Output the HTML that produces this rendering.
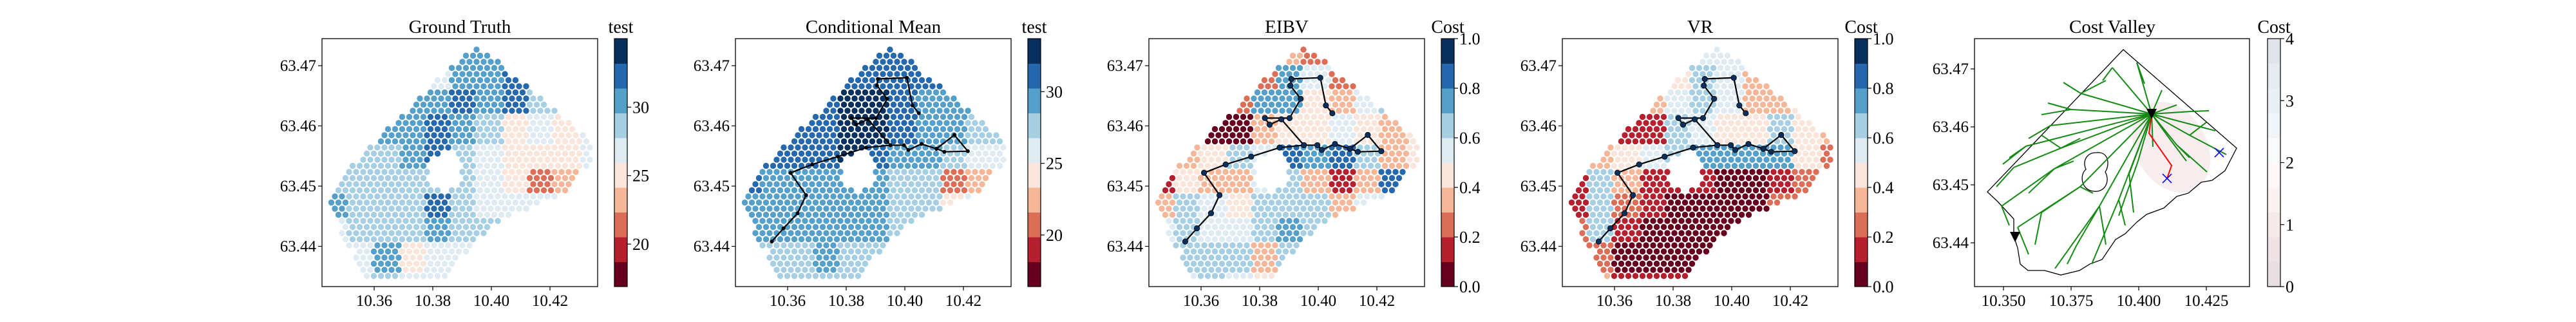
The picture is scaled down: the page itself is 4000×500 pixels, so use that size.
<!DOCTYPE html>
<html><head><meta charset="utf-8"><style>
html,body{margin:0;padding:0;background:#fff;}
svg{display:block;font-family:"Liberation Serif","DejaVu Serif",serif;}
</style></head><body>
<svg id="fig" width="4000" height="500" viewBox="0 0 4000 500" xmlns="http://www.w3.org/2000/svg"></svg>
<script>
// ---------- data ----------
const rdbu = ['#67001f','#b51f2e','#dc6e57','#f6b698','#f9e5da','#deebf2','#a7cfe4','#559fcb','#2668ae','#08305e'];
const costColors = ['#e8dde1','#eee2e5','#f5e9e9','#faf1f0','#fdf8f7','#f8fafc','#eff5f9','#e8f0f6','#e5ebf1','#e1e5ea'];
const panelTitles = ['Ground Truth','Conditional Mean','EIBV','VR','Cost Valley'];
const cbarLabels = ['test','test','Cost','Cost','Cost'];
const latTicks = [63.44,63.45,63.46,63.47];
const lonTicks = [10.36,10.38,10.40,10.42];
const lonTicks5 = [10.350,10.375,10.400,10.425];
const testTicks = [20,25,30];
const costTicks = [0,0.2,0.4,0.6,0.8,1.0];
const cvTicks = [0,1,2,3,4];
// coarse field grids (colour bin per 40px block)
const gridGT = ["55555776555","55555778755","55577878666","55778764545","66678654445","66666654234","76668655555","56667665555","55745555555","55655555555"];
const gridCM = ["88888888888","88888888877","88889987777","88889987766","78889877655","87777766233","77777766455","77777765555","66676655555","66666655555"];
const gridEIBV = ["55555325555","55532752455","55227743565","52003445434","33465878634","14335631386","36546663555","56556765555","56663655555","55654555555"];
const gridVR = ["55555554555","44444653444","33335653344","21116544643","33456777742","16311100122","16210000222","26100001222","22000022222","33111133333"];
// survey path (lon/lat)
const pathLon = [10.3546,10.3586,10.3634,10.3663,10.3610,10.3684,10.3771,10.3868,10.3951,10.3874,10.3834,10.3818,10.3902,10.3940,10.3905,10.3908,10.4007,10.4026,10.4048];
const pathLat = [63.4408,63.4430,63.4455,63.4485,63.4522,63.4536,63.4549,63.4564,63.4568,63.4611,63.4602,63.4613,63.4613,63.4645,63.4667,63.4678,63.4680,63.4634,63.4621];
const branchLon = [10.3951,10.3997,10.4012,10.4057,10.4108,10.4169,10.4215,10.4135,10.4108];
const branchLat = [63.4568,63.4568,63.4560,63.4570,63.4562,63.4585,63.4558,63.4557,63.4562];
// cost valley boundary
const bndLon = [10.39429,10.43619,10.43190,10.42714,10.42310,10.41833,10.41405,10.40929,10.40286,10.39929,10.39500,10.39143,10.38643,10.38190,10.37810,10.37119,10.36524,10.35905,10.35619,10.35524,10.35381,10.35381,10.34786,10.34405];
const bndLat = [63.47333,63.45633,63.45244,63.45078,63.45044,63.44856,63.44800,63.44600,63.44489,63.44356,63.44156,63.44056,63.43711,63.43633,63.43522,63.43444,63.43522,63.43522,63.43633,63.43911,63.44111,63.44411,63.44711,63.44878];
// RRT tree segments
const segLon1 = [10.40476,10.40476,10.37857,10.40476,10.40476,10.40476,10.40476,10.37119,10.40476,10.36881,10.40476,10.37833,10.40476,10.38548,10.40476,10.39262,10.40476,10.40476,10.40476,10.40476,10.40476,10.41881,10.40476,10.41405,10.40476,10.40476,10.40476,10.40476,10.40476,10.39976,10.39643,10.36881,10.37833,10.38548,10.37500,10.35833,10.41881,10.37119,
 10.37500,10.36738,10.35833,10.35381,10.34929,10.35524,10.36405,10.37714,10.38548,10.39262,10.39024,10.39929,10.37857,10.37119,10.36881,10.41405,10.41952,10.41167,10.37833];
const segLat1 = [63.46222,63.46222,63.46578,63.46222,63.46222,63.46222,63.46222,63.45633,63.46222,63.45278,63.46222,63.44967,63.46222,63.44633,63.46222,63.44744,63.46222,63.46222,63.46222,63.46222,63.46222,63.45856,63.46222,63.45689,63.46222,63.46222,63.46222,63.46222,63.46222,63.45411,63.45189,63.45278,63.44967,63.44633,63.46300,63.45667,63.45856,63.45633,
 63.46300,63.46022,63.45667,63.45300,63.44633,63.44267,63.44522,63.43967,63.44633,63.44744,63.47022,63.47111,63.46578,63.45633,63.45278,63.45689,63.46267,63.45778,63.44967];
const segLon2 = [10.39024,10.37857,10.37214,10.37500,10.36738,10.35833,10.37119,10.35381,10.36881,10.34929,10.37833,10.35524,10.38548,10.36905,10.39262,10.38262,10.39643,10.39929,10.40857,10.42833,10.41881,10.43238,10.41405,10.42524,10.41405,10.41952,10.41167,10.40524,10.39976,10.39262,10.39810,10.35929,10.36405,10.37714,10.36643,10.35214,10.42500,10.36405,
 10.36405,10.35929,10.34976,10.34738,10.35214,10.35929,10.36167,10.37357,10.38786,10.39500,10.38667,10.40214,10.38786,10.37833,10.37595,10.41881,10.42595,10.41762,10.38310];
const segLat2 = [63.47022,63.46578,63.46767,63.46300,63.46022,63.45667,63.45633,63.45300,63.45278,63.44633,63.44967,63.44267,63.44633,63.43556,63.44744,63.43633,63.45189,63.47111,63.46633,63.45933,63.45856,63.45522,63.45689,63.45222,63.46378,63.46267,63.45778,63.45656,63.45411,63.44467,63.44522,63.44856,63.44522,63.43967,63.46411,63.45467,63.46078,63.45856,
 63.46211,63.45800,63.45356,63.44967,63.44300,63.43800,63.43967,63.43633,63.43967,63.44300,63.46800,63.46744,63.46800,63.45800,63.45411,63.45467,63.46278,63.45411,63.44856];
const redLon = [10.40476,10.40381,10.41214,10.41048];
const redLat = [63.46222,63.45889,63.45333,63.45111];
const xLon = [10.41048,10.42976];
const xLat = [63.45111,63.45556];
const triLon = [10.40476,10.35429];
const triLat = [63.46222,63.44100];

// ---------- layout ----------
const NS = 'http://www.w3.org/2000/svg';
const svg = document.getElementById('fig');
function el(tag, attrs, parent){const e=document.createElementNS(NS,tag);for(const k in attrs)e.setAttribute(k,attrs[k]);(parent||svg).appendChild(e);return e;}
const AX_T=60, AX_B=445, AX_W=428, STEP=642;
function axLeft(p){return 500+STEP*p;}
function xS(p,lon){return axLeft(p)+81+(lon-10.36)*4550;}
function yS(lat){return 102+(63.47-lat)*9350;}
function xS5(lon){return 3321+(lon-10.40)*4200;}
function yS5(lat){return 107+(63.47-lat)*9000;}
const mask=[[240,9],[263,27],[308,67],[353,100],[380,127],[419,162],[419,188],[393,222],[392,233],[362,246],[308,268],[259,295],[230,329],[206,346],[193,375],[72,375],[65,364],[48,331],[33,309],[10,250],[35,205],[66,177],[98,144],[125,119],[160,84],[213,30]];
function inside(x,y){let c=false;for(let i=0,j=mask.length-1;i<mask.length;j=i++){const [xi,yi]=mask[i],[xj,yj]=mask[j];if(((yi>y)!=(yj>y))&&(x<(xj-xi)*(y-yi)/(yj-yi)+xi))c=!c;}return c;}

const grids=[gridGT,gridCM,gridEIBV,gridVR];
for(let p=0;p<5;p++){
  const L=axLeft(p);
  const g=el('g',{});
  
  
  const cx = p<4 ? L+AX_W/2 : 3280;
  const t=el('text',{x:cx,y:51,'font-size':29,'text-anchor':'middle'},g);
  t.textContent=panelTitles[p];
  
  
  const axR = p<4 ? L+AX_W : 3493;
  const axL = p<4 ? L : 3066;
  if(p<4){
    const cg=el('g',{},g);
    
    
    const grid=grids[p];
    for(let j=0;j<38;j++){
      const y=17+j*9.5;
      for(let i=-25;i<18;i++){
        const x=240+i*11+(j%2?5.5:0);
        if(!inside(x,y))continue;
        if(((x-192)/26)**2+((y-206)/30)**2<1)continue;
        const r=Math.min(9,Math.floor(y/40)), c=Math.min(10,Math.max(0,Math.floor(x/40)));
        const v=+grid[r][c];
        const d=el('circle',{cx:L+x,cy:AX_T+y,r:4.7,fill:rdbu[v]},cg);
        
        
      }
    }
    if(p>0){
      const pg=el('g',{},g);
      
      
      const pts=pathLon.map((v,k)=>xS(p,v)+','+yS(pathLat[k])).join(' ');
      const bpts=branchLon.map((v,k)=>xS(p,v)+','+yS(branchLat[k])).join(' ');
      el('polyline',{points:pts,fill:'none',stroke:'#000','stroke-width':2.2},pg);
      el('polyline',{points:bpts,fill:'none',stroke:'#000','stroke-width':2.2},pg);
      const rr = p==1?2.6:4.2, fc = p==1?'#000':'#08305e';
      pathLon.concat(branchLon).forEach((v,k)=>{
        const la = k<pathLon.length?pathLat[k]:branchLat[k-pathLon.length];
        const m=el('circle',{cx:xS(p,v),cy:yS(la),r:rr,fill:fc,stroke:'#000','stroke-width':0.8},pg);
        
        
      });
    }
  } else {
    const cg=el('g',{},g);
    
    
    el('ellipse',{cx:xS5(10.412),cy:yS5(63.4565),rx:55,ry:75,fill:'#f3e6e8',opacity:0.7,transform:'rotate(-30 '+xS5(10.412)+' '+yS5(63.4565)+')'},cg);
    const bp=bndLon.map((v,k)=>xS5(v)+','+yS5(bndLat[k])).join(' ');
    const b=el('polygon',{points:bp,fill:'none',stroke:'#000','stroke-width':1.3},cg);
    
    
    const hx=xS5(10.38429), hy=yS5(63.45222);
    const h=el('path',{d:`M${hx} ${hy-30} C${hx+22} ${hy-32} ${hx+20} ${hy-8} ${hx+14} ${hy} C${hx+22} ${hy+14} ${hx+14} ${hy+32} ${hx-4} ${hy+30} C${hx-24} ${hy+28} ${hx-26} ${hy+4} ${hx-16} ${hy-4} C${hx-22} ${hy-18} ${hx-14} ${hy-30} ${hx} ${hy-30}Z`,fill:'none',stroke:'#000','stroke-width':1.3},cg);
    
    
    segLon1.forEach((v,k)=>{
      const s=el('line',{x1:xS5(v),y1:yS5(segLat1[k]),x2:xS5(segLon2[k]),y2:yS5(segLat2[k]),stroke:'#138a13','stroke-width':2},cg);
      
      
    });
    const rp=el('polyline',{points:redLon.map((v,k)=>xS5(v)+','+yS5(redLat[k])).join(' '),fill:'none',stroke:'#f00','stroke-width':2},cg);
    
    
    xLon.forEach((v,k)=>{
      const x=xS5(v),y=yS5(xLat[k]);
      const m=el('path',{d:`M${x-7} ${y-7}L${x+7} ${y+7}M${x-7} ${y+7}L${x+7} ${y-7}`,stroke:'#0000ff','stroke-width':1.6},cg);
      
      
    });
    triLon.forEach((v,k)=>{
      const x=xS5(v),y=yS5(triLat[k]);
      const m=el('polygon',{points:`${x-8},${y-8} ${x+8},${y-8} ${x},${y+8}`,fill:'#000'},cg);
      
      
    });
  }
  const f=el('rect',{x:axL,y:AX_T,width:axR-axL,height:AX_B-AX_T,fill:'none',stroke:'#000','stroke-width':1.3},g);
  
  
  latTicks.forEach(v=>{
    const y = p<4 ? yS(v) : yS5(v);
    el('line',{x1:axL-6,y1:y,x2:axL,y2:y,stroke:'#000','stroke-width':1.2},g);
    const tl=el('text',{x:axL-9,y:y+8,'font-size':25,'text-anchor':'end'},g);
    tl.textContent=v.toFixed(2);
    
    
  });
  (p<4?lonTicks:lonTicks5).forEach(v=>{
    const x = p<4 ? xS(p,v) : xS5(v);
    el('line',{x1:x,y1:AX_B,x2:x,y2:AX_B+6,stroke:'#000','stroke-width':1.2},g);
    const tl=el('text',{x:x,y:475,'font-size':25,'text-anchor':'middle'},g);
    tl.textContent = p<4 ? v.toFixed(2) : v.toFixed(3);
    
    
  });
  const cbx = p<4 ? 954+STEP*p : 3521;
  const cb=el('g',{},g);
  
  
  const cols = p<4 ? rdbu : costColors;
  const bh=(AX_B-AX_T)/10;
  cols.forEach((c,k)=>{el('rect',{x:cbx,y:AX_B-(k+1)*bh,width:20,height:bh+0.5,fill:c},cb);});
  el('rect',{x:cbx,y:AX_T,width:20,height:AX_B-AX_T,fill:'none',stroke:'#000','stroke-width':1.2},cb);
  let ticks, tmin, tmax, fmt;
  if(p<2){ticks=testTicks;tmin=p==0?16.9:16.4;tmax=p==0?35.0:33.7;fmt=v=>String(v);}
  else if(p<4){ticks=costTicks;tmin=0;tmax=1;fmt=v=>v.toFixed(1);}
  else {ticks=cvTicks;tmin=0;tmax=4;fmt=v=>String(v);}
  ticks.forEach(v=>{
    const y=AX_B-(v-tmin)/(tmax-tmin)*(AX_B-AX_T);
    el('line',{x1:cbx+20,y1:y,x2:cbx+26,y2:y,stroke:'#000','stroke-width':1.2},cb);
    const tl=el('text',{x:cbx+28,y:y+9,'font-size':26},cb);
    tl.textContent=fmt(v);
    
    
  });
  const cl=el('text',{x:cbx+10,y:51,'font-size':28,'text-anchor':'middle'},cb);
  cl.textContent=cbarLabels[p];
  
  
}
</script>
</body></html>
